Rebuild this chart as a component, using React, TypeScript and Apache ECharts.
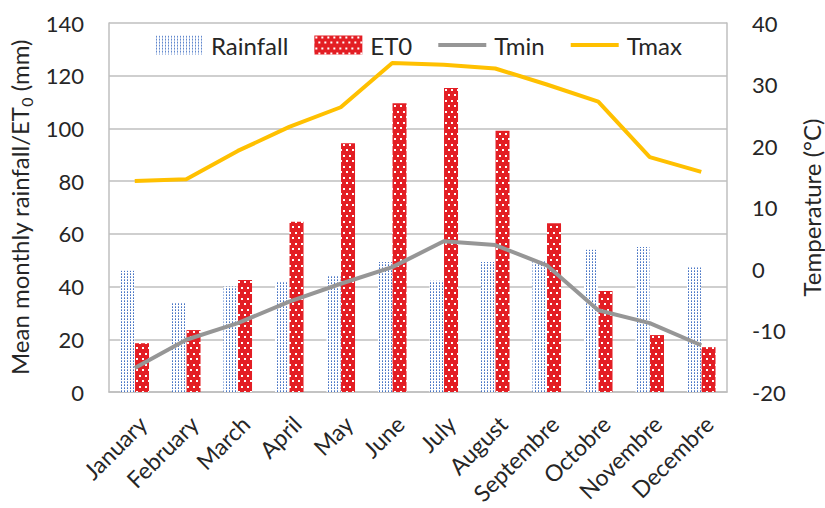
import React, { useEffect, useRef } from 'react';
import * as echarts from 'echarts';

const months = ['January', 'February', 'March', 'April', 'May', 'June', 'July', 'August', 'Septembre', 'Octobre', 'Novembre', 'Decembre'];
const rainfall = [46, 34, 40, 42, 44, 49.3, 42.2, 49.3, 50, 54, 55, 47.3];
const et0 = [18.5, 23.5, 42.5, 64.6, 94.4, 109.6, 115.3, 99.1, 64, 38.3, 21.6, 17];
const tmin = [-16.1, -11.5, -8.8, -5.3, -2.4, 0.3, 4.5, 3.9, 0.6, -6.7, -8.8, -12.4];
const tmax = [14.3, 14.6, 19.2, 23.1, 26.3, 33.5, 33.2, 32.6, 30.0, 27.2, 18.2, 15.8];

function makePattern(w: number, h: number, bg: string, dots: [number, number, number, number, string][]) {
  const c = document.createElement('canvas');
  c.width = w;
  c.height = h;
  const ctx = c.getContext('2d')!;
  ctx.fillStyle = bg;
  ctx.fillRect(0, 0, w, h);
  dots.forEach(([x, y, dw, dh, col]) => {
    ctx.fillStyle = col;
    ctx.fillRect(x, y, dw, dh);
  });
  return { image: c.toDataURL(), repeat: 'repeat', imageWidth: w, imageHeight: h } as any;
}

const FONT = 'Lato';
const TXT = '#262626';
const GRID = '#bfbfbf';
const LINE_ICON = 'path://M0,0L48,0L48,4L0,4Z';

export default function App() {
  const ref = useRef<HTMLDivElement>(null);
  useEffect(() => {
    document.body.style.margin = '0';
    const chart = echarts.init(ref.current!, undefined, { renderer: 'svg' });
    const rainPattern = makePattern(3, 3, '#ffffff', [
      [1, 1, 1, 1, '#4472C4'],
      [1, 0, 1, 1, '#7f9ed6'],
    ]);
    const etPattern = makePattern(6, 11, '#E31E24', [
      [1, 1, 2, 2, '#ffffff'],
      [4, 6, 2, 2, '#ffffff'],
    ]);
    chart.setOption({
      animation: false,
      backgroundColor: '#ffffff',
      grid: { left: 109, right: 98, top: 23, bottom: 116, containLabel: false, outerBoundsMode: 'none' },
      legend: {
        left: 150,
        top: 28,
        itemWidth: 48,
        itemHeight: 19,
        itemGap: 26,
        textStyle: { fontFamily: FONT, fontSize: 24, color: TXT, padding: [0, 0, 0, 3] },
        data: [
          { name: 'Rainfall', icon: 'rect' },
          { name: 'ET0', icon: 'rect' },
          { name: 'Tmin', icon: LINE_ICON },
          { name: 'Tmax', icon: LINE_ICON },
        ],
      },
      xAxis: {
        type: 'category',
        data: months,
        axisLine: { lineStyle: { color: GRID, width: 1.5 } },
        axisTick: { show: false },
        axisLabel: {
          rotate: 45,
          interval: 0,
          margin: 20,
          fontFamily: FONT,
          fontSize: 23,
          color: TXT,
          lineHeight: 22,
          formatter: (v: string) => '\n' + v,
        },
      },
      yAxis: [
        {
          type: 'value',
          min: 0,
          max: 140,
          interval: 20,
          position: 'left',
          axisLine: { show: true, lineStyle: { color: GRID, width: 1.5 } },
          axisTick: { show: false },
          splitLine: { lineStyle: { color: GRID, width: 1.5 } },
          axisLabel: { margin: 25, fontFamily: FONT, fontSize: 22, color: TXT },
          name: '{a|Mean monthly rainfall/ET}{s|0}{a| (mm)}',
          nameLocation: 'middle',
          nameRotate: 90,
          nameGap: 72,
          nameTextStyle: {
            rich: {
              a: { fontFamily: FONT, fontSize: 24, color: TXT, lineHeight: 30, verticalAlign: 'middle' },
              s: { fontFamily: FONT, fontSize: 16, color: TXT, lineHeight: 16, verticalAlign: 'bottom' },
            },
          },
        },
        {
          type: 'value',
          min: -20,
          max: 40,
          interval: 10,
          position: 'right',
          axisLine: { show: true, lineStyle: { color: GRID, width: 1.5 } },
          axisTick: { show: false },
          splitLine: { show: false },
          axisLabel: { margin: 25, fontFamily: FONT, fontSize: 22, color: TXT },
          name: 'Temperature (°C)',
          nameLocation: 'middle',
          nameRotate: 90,
          nameGap: 72,
          nameTextStyle: { fontFamily: FONT, fontSize: 24, color: TXT },
        },
      ],
      series: [
        { name: 'Rainfall', type: 'bar', data: rainfall, barWidth: 14, barGap: '4%', itemStyle: { color: rainPattern } },
        { name: 'ET0', type: 'bar', data: et0, barWidth: 14, itemStyle: { color: etPattern } },
        { name: 'Tmin', type: 'line', yAxisIndex: 1, data: tmin, symbol: 'none', lineStyle: { color: '#969696', width: 4 }, itemStyle: { color: '#969696' } },
        { name: 'Tmax', type: 'line', yAxisIndex: 1, data: tmax, symbol: 'none', lineStyle: { color: '#FFC000', width: 4 }, itemStyle: { color: '#FFC000' } },
      ],
    });
    return () => chart.dispose();
  }, []);
  return <div ref={ref} style={{ width: 825, height: 508, position: 'absolute', left: 0, top: 0 }} />;
}
